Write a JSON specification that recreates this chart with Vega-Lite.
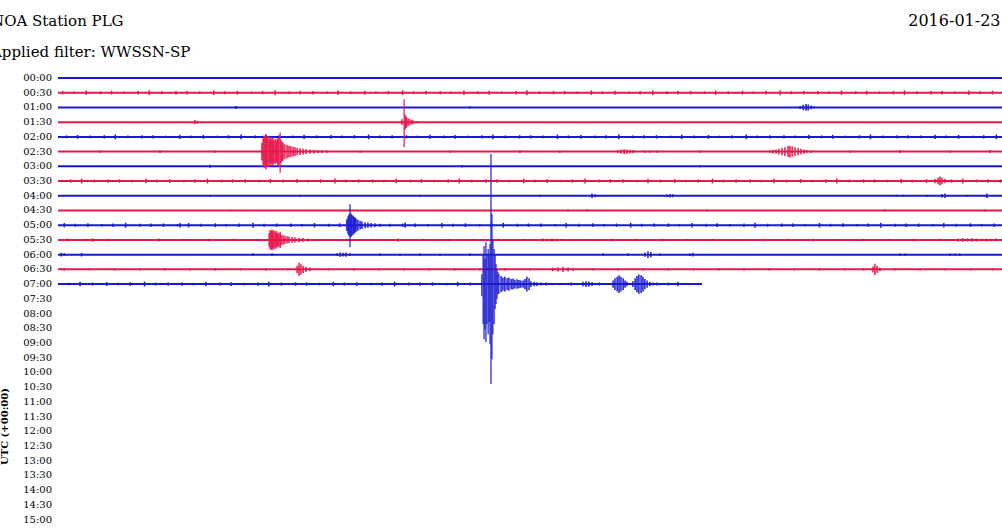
{
"$schema":"https://vega.github.io/schema/vega-lite/v6.json",
"autosize":"none",
"width":944,"height":458,
"padding":{"left":58,"top":70,"right":0,"bottom":0},
"background":"white",
"config":{"view":{"stroke":null}},
"title":{"text":"NOA Station PLG","subtitle":"Applied filter: WWSSN-SP","anchor":"start","frame":"group","dx":-67,"dy":52,"font":"DejaVu Serif","fontSize":15,"fontWeight":"normal","color":"black","subtitleFont":"DejaVu Serif","subtitleFontSize":15,"subtitleColor":"black","subtitlePadding":16,"offset":4},
"datasets":{
"labs":[{"r":0,"lab":"00:00"},{"r":1,"lab":"00:30"},{"r":2,"lab":"01:00"},{"r":3,"lab":"01:30"},{"r":4,"lab":"02:00"},{"r":5,"lab":"02:30"},{"r":6,"lab":"03:00"},{"r":7,"lab":"03:30"},{"r":8,"lab":"04:00"},{"r":9,"lab":"04:30"},{"r":10,"lab":"05:00"},{"r":11,"lab":"05:30"},{"r":12,"lab":"06:00"},{"r":13,"lab":"06:30"},{"r":14,"lab":"07:00"},{"r":15,"lab":"07:30"},{"r":16,"lab":"08:00"},{"r":17,"lab":"08:30"},{"r":18,"lab":"09:00"},{"r":19,"lab":"09:30"},{"r":20,"lab":"10:00"},{"r":21,"lab":"10:30"},{"r":22,"lab":"11:00"},{"r":23,"lab":"11:30"},{"r":24,"lab":"12:00"},{"r":25,"lab":"12:30"},{"r":26,"lab":"13:00"},{"r":27,"lab":"13:30"},{"r":28,"lab":"14:00"},{"r":29,"lab":"14:30"},{"r":30,"lab":"15:00"}],
"base":[{"r":0,"t0":0,"t1":30},{"r":1,"t0":0,"t1":30},{"r":2,"t0":0,"t1":30},{"r":3,"t0":0,"t1":30},{"r":4,"t0":0,"t1":30},{"r":5,"t0":0,"t1":30},{"r":6,"t0":0,"t1":30},{"r":7,"t0":0,"t1":30},{"r":8,"t0":0,"t1":30},{"r":9,"t0":0,"t1":30},{"r":10,"t0":0,"t1":30},{"r":11,"t0":0,"t1":30},{"r":12,"t0":0,"t1":30},{"r":13,"t0":0,"t1":30},{"r":14,"t0":0,"t1":20.47}],
"spk":[
{"r":0,"t":2.92,"a":0.15},{"r":0,"t":17.2,"a":0.15},
{"r":1,"t":0.15,"a":0.23},{"r":1,"t":0.5,"a":0.17},{"r":1,"t":0.9,"a":0.3},{"r":1,"t":1.35,"a":0.2},{"r":1,"t":1.7,"a":0.26},{"r":1,"t":2.1,"a":0.17},{"r":1,"t":2.55,"a":0.23},{"r":1,"t":2.9,"a":0.33},{"r":1,"t":3.3,"a":0.2},{"r":1,"t":3.75,"a":0.23},
{"r":1,"t":4.1,"a":0.23},{"r":1,"t":4.5,"a":0.17},{"r":1,"t":4.95,"a":0.3},{"r":1,"t":5.3,"a":0.2},{"r":1,"t":5.7,"a":0.26},{"r":1,"t":6.15,"a":0.17},{"r":1,"t":6.5,"a":0.23},{"r":1,"t":6.9,"a":0.33},{"r":1,"t":7.35,"a":0.2},{"r":1,"t":7.7,"a":0.23},
{"r":1,"t":8.1,"a":0.23},{"r":1,"t":8.55,"a":0.17},{"r":1,"t":8.9,"a":0.3},{"r":1,"t":9.3,"a":0.2},{"r":1,"t":9.75,"a":0.26},{"r":1,"t":10.1,"a":0.17},{"r":1,"t":10.5,"a":0.23},{"r":1,"t":10.95,"a":0.33},{"r":1,"t":11.3,"a":0.2},{"r":1,"t":11.7,"a":0.23},
{"r":1,"t":12.15,"a":0.23},{"r":1,"t":12.5,"a":0.17},{"r":1,"t":12.9,"a":0.3},{"r":1,"t":13.35,"a":0.2},{"r":1,"t":13.7,"a":0.26},{"r":1,"t":14.1,"a":0.17},{"r":1,"t":14.55,"a":0.23},{"r":1,"t":14.9,"a":0.33},{"r":1,"t":15.3,"a":0.2},{"r":1,"t":15.75,"a":0.23},
{"r":1,"t":16.1,"a":0.23},{"r":1,"t":16.5,"a":0.17},{"r":1,"t":16.95,"a":0.3},{"r":1,"t":17.3,"a":0.2},{"r":1,"t":17.7,"a":0.26},{"r":1,"t":18.15,"a":0.17},{"r":1,"t":18.5,"a":0.23},{"r":1,"t":18.9,"a":0.33},{"r":1,"t":19.35,"a":0.2},{"r":1,"t":19.7,"a":0.23},
{"r":1,"t":20.1,"a":0.23},{"r":1,"t":20.55,"a":0.17},{"r":1,"t":20.9,"a":0.3},{"r":1,"t":21.3,"a":0.2},{"r":1,"t":21.75,"a":0.26},{"r":1,"t":22.1,"a":0.17},{"r":1,"t":22.5,"a":0.23},{"r":1,"t":22.95,"a":0.33},{"r":1,"t":23.3,"a":0.2},{"r":1,"t":23.7,"a":0.23},
{"r":1,"t":24.15,"a":0.23},{"r":1,"t":24.5,"a":0.17},{"r":1,"t":24.9,"a":0.3},{"r":1,"t":25.35,"a":0.2},{"r":1,"t":25.7,"a":0.26},{"r":1,"t":26.1,"a":0.17},{"r":1,"t":26.55,"a":0.23},{"r":1,"t":26.9,"a":0.33},{"r":1,"t":27.3,"a":0.2},{"r":1,"t":27.75,"a":0.23},
{"r":1,"t":28.1,"a":0.23},{"r":1,"t":28.5,"a":0.17},{"r":1,"t":28.95,"a":0.3},{"r":1,"t":29.3,"a":0.2},{"r":1,"t":29.7,"a":0.26},
{"r":2,"t":5.66,"a":0.2},{"r":2,"t":13.09,"a":0.15},{"r":2,"t":23.58,"a":0.2},{"r":2,"t":23.68,"a":0.35},{"r":2,"t":23.77,"a":0.45},{"r":2,"t":23.84,"a":0.4},{"r":2,"t":23.93,"a":0.25},{"r":2,"t":24.02,"a":0.15},
{"r":3,"t":4.35,"a":0.3},{"r":3,"t":4.42,"a":0.2},{"r":3,"t":10.93,"a":0.4},{"r":3,"t":11.03,"a":1.0},{"r":3,"t":11.06,"a":0.8},{"r":3,"t":11.09,"a":0.6},{"r":3,"t":11.15,"a":0.5},{"r":3,"t":11.22,"a":0.35},{"r":3,"t":11.28,"a":0.25},{"r":3,"t":11.38,"a":0.15},
{"r":4,"t":0.27,"a":0.2},{"r":4,"t":0.62,"a":0.26},{"r":4,"t":1.02,"a":0.17},{"r":4,"t":1.47,"a":0.23},{"r":4,"t":1.82,"a":0.33},{"r":4,"t":2.22,"a":0.2},{"r":4,"t":2.67,"a":0.23},{"r":4,"t":3.02,"a":0.23},{"r":4,"t":3.42,"a":0.17},{"r":4,"t":3.87,"a":0.3},
{"r":4,"t":4.22,"a":0.2},{"r":4,"t":4.62,"a":0.26},{"r":4,"t":5.07,"a":0.17},{"r":4,"t":5.42,"a":0.23},{"r":4,"t":5.82,"a":0.33},{"r":4,"t":6.27,"a":0.2},{"r":4,"t":6.62,"a":0.23},{"r":4,"t":7.02,"a":0.23},{"r":4,"t":7.47,"a":0.17},{"r":4,"t":7.82,"a":0.3},
{"r":4,"t":8.22,"a":0.2},{"r":4,"t":8.67,"a":0.26},{"r":4,"t":9.02,"a":0.17},{"r":4,"t":9.42,"a":0.23},{"r":4,"t":9.87,"a":0.33},{"r":4,"t":10.22,"a":0.2},{"r":4,"t":10.62,"a":0.23},{"r":4,"t":11.07,"a":0.23},{"r":4,"t":11.42,"a":0.17},{"r":4,"t":11.82,"a":0.3},
{"r":4,"t":12.27,"a":0.2},{"r":4,"t":12.62,"a":0.26},{"r":4,"t":13.02,"a":0.17},{"r":4,"t":13.47,"a":0.23},{"r":4,"t":13.82,"a":0.33},{"r":4,"t":14.22,"a":0.2},{"r":4,"t":14.67,"a":0.23},{"r":4,"t":15.02,"a":0.23},{"r":4,"t":15.42,"a":0.17},{"r":4,"t":15.87,"a":0.3},
{"r":4,"t":16.22,"a":0.2},{"r":4,"t":16.62,"a":0.26},{"r":4,"t":17.07,"a":0.17},{"r":4,"t":17.42,"a":0.23},{"r":4,"t":17.82,"a":0.33},{"r":4,"t":18.27,"a":0.2},{"r":4,"t":18.62,"a":0.23},{"r":4,"t":19.02,"a":0.23},{"r":4,"t":19.47,"a":0.17},{"r":4,"t":19.82,"a":0.3},
{"r":4,"t":20.22,"a":0.2},{"r":4,"t":20.67,"a":0.26},{"r":4,"t":21.02,"a":0.17},{"r":4,"t":21.42,"a":0.23},{"r":4,"t":21.87,"a":0.33},{"r":4,"t":22.22,"a":0.2},{"r":4,"t":22.62,"a":0.23},{"r":4,"t":23.07,"a":0.23},{"r":4,"t":23.42,"a":0.17},{"r":4,"t":23.87,"a":0.3},
{"r":4,"t":24.27,"a":0.2},{"r":4,"t":24.62,"a":0.26},{"r":4,"t":25.02,"a":0.17},{"r":4,"t":25.47,"a":0.23},{"r":4,"t":25.82,"a":0.33},{"r":4,"t":26.22,"a":0.2},{"r":4,"t":26.67,"a":0.23},{"r":4,"t":27.02,"a":0.23},{"r":4,"t":27.42,"a":0.17},{"r":4,"t":27.87,"a":0.3},
{"r":4,"t":28.22,"a":0.2},{"r":4,"t":28.62,"a":0.26},{"r":4,"t":29.07,"a":0.17},{"r":4,"t":29.42,"a":0.23},{"r":4,"t":29.82,"a":0.33},
{"r":5,"t":1.33,"a":0.15},{"r":5,"t":3.24,"a":0.2},{"r":5,"t":4.99,"a":0.15},
{"r":5,"t":6.48,"a":1.2},{"r":5,"t":6.52,"a":1.8},{"r":5,"t":6.55,"a":2.2},{"r":5,"t":6.58,"a":2.0},{"r":5,"t":6.61,"a":2.4},{"r":5,"t":6.64,"a":1.9},{"r":5,"t":6.67,"a":2.1},{"r":5,"t":6.71,"a":1.7},{"r":5,"t":6.74,"a":2.0},{"r":5,"t":6.77,"a":1.8},{"r":5,"t":6.8,"a":1.6},{"r":5,"t":6.83,"a":1.9},{"r":5,"t":6.86,"a":1.5},{"r":5,"t":6.9,"a":1.7},{"r":5,"t":6.93,"a":1.4},{"r":5,"t":6.96,"a":1.6},{"r":5,"t":6.99,"a":1.8},{"r":5,"t":7.02,"a":2.0},{"r":5,"t":7.09,"a":1.5},{"r":5,"t":7.12,"a":1.3},{"r":5,"t":7.15,"a":1.2},{"r":5,"t":7.21,"a":1.0},{"r":5,"t":7.28,"a":0.9},{"r":5,"t":7.34,"a":0.8},{"r":5,"t":7.4,"a":0.75},{"r":5,"t":7.47,"a":0.65},{"r":5,"t":7.53,"a":0.6},{"r":5,"t":7.6,"a":0.5},{"r":5,"t":7.69,"a":0.45},{"r":5,"t":7.79,"a":0.4},{"r":5,"t":7.88,"a":0.35},{"r":5,"t":8.01,"a":0.3},{"r":5,"t":8.14,"a":0.25},{"r":5,"t":8.26,"a":0.2},{"r":5,"t":8.39,"a":0.2},{"r":5,"t":8.55,"a":0.15},
{"r":5,"t":9.6,"a":0.15},{"r":5,"t":12.46,"a":0.15},{"r":5,"t":14.68,"a":0.2},{"r":5,"t":15.95,"a":0.15},
{"r":5,"t":17.8,"a":0.2},{"r":5,"t":17.89,"a":0.3},{"r":5,"t":17.99,"a":0.35},{"r":5,"t":18.08,"a":0.3},{"r":5,"t":18.18,"a":0.25},{"r":5,"t":18.27,"a":0.2},{"r":5,"t":18.65,"a":0.15},{"r":5,"t":18.81,"a":0.15},{"r":5,"t":19.03,"a":0.15},{"r":5,"t":20.4,"a":0.15},
{"r":5,"t":22.63,"a":0.15},{"r":5,"t":22.72,"a":0.25},{"r":5,"t":22.82,"a":0.3},{"r":5,"t":22.91,"a":0.4},{"r":5,"t":23.01,"a":0.5},{"r":5,"t":23.1,"a":0.6},{"r":5,"t":23.2,"a":0.75},{"r":5,"t":23.26,"a":0.8},{"r":5,"t":23.33,"a":0.7},{"r":5,"t":23.42,"a":0.6},{"r":5,"t":23.52,"a":0.5},{"r":5,"t":23.61,"a":0.4},{"r":5,"t":23.71,"a":0.3},{"r":5,"t":23.8,"a":0.2},{"r":5,"t":23.93,"a":0.15},
{"r":5,"t":25.17,"a":0.15},{"r":5,"t":26.76,"a":0.2},{"r":5,"t":28.35,"a":0.15},{"r":5,"t":29.62,"a":0.2},
{"r":6,"t":4.83,"a":0.2},{"r":6,"t":12.84,"a":0.15},{"r":6,"t":20.4,"a":0.12},
{"r":7,"t":0.4,"a":0.23},{"r":7,"t":0.75,"a":0.33},{"r":7,"t":1.15,"a":0.2},{"r":7,"t":1.6,"a":0.23},{"r":7,"t":1.95,"a":0.23},{"r":7,"t":2.35,"a":0.17},{"r":7,"t":2.8,"a":0.3},{"r":7,"t":3.15,"a":0.2},{"r":7,"t":3.55,"a":0.26},{"r":7,"t":4.0,"a":0.17},
{"r":7,"t":4.35,"a":0.23},{"r":7,"t":4.75,"a":0.33},{"r":7,"t":5.2,"a":0.2},{"r":7,"t":5.55,"a":0.23},{"r":7,"t":5.95,"a":0.23},{"r":7,"t":6.4,"a":0.17},{"r":7,"t":6.75,"a":0.3},{"r":7,"t":7.15,"a":0.2},{"r":7,"t":7.6,"a":0.26},{"r":7,"t":7.95,"a":0.17},
{"r":7,"t":8.35,"a":0.23},{"r":7,"t":8.8,"a":0.33},{"r":7,"t":9.15,"a":0.2},{"r":7,"t":9.55,"a":0.23},{"r":7,"t":10.0,"a":0.23},{"r":7,"t":10.35,"a":0.17},{"r":7,"t":10.75,"a":0.3},{"r":7,"t":11.2,"a":0.2},{"r":7,"t":11.55,"a":0.26},{"r":7,"t":11.95,"a":0.17},
{"r":7,"t":12.4,"a":0.23},{"r":7,"t":12.75,"a":0.33},{"r":7,"t":13.15,"a":0.2},{"r":7,"t":13.6,"a":0.23},{"r":7,"t":13.95,"a":0.23},{"r":7,"t":14.35,"a":0.17},{"r":7,"t":14.8,"a":0.3},{"r":7,"t":15.15,"a":0.2},{"r":7,"t":15.55,"a":0.26},{"r":7,"t":16.0,"a":0.17},
{"r":7,"t":16.35,"a":0.23},{"r":7,"t":16.75,"a":0.33},{"r":7,"t":17.2,"a":0.2},{"r":7,"t":17.55,"a":0.23},{"r":7,"t":17.95,"a":0.23},{"r":7,"t":18.4,"a":0.17},{"r":7,"t":18.75,"a":0.3},{"r":7,"t":19.15,"a":0.2},{"r":7,"t":19.6,"a":0.26},{"r":7,"t":19.95,"a":0.17},
{"r":7,"t":20.35,"a":0.23},{"r":7,"t":20.8,"a":0.33},{"r":7,"t":21.15,"a":0.2},{"r":7,"t":21.55,"a":0.23},{"r":7,"t":22.0,"a":0.23},{"r":7,"t":22.35,"a":0.17},{"r":7,"t":22.75,"a":0.3},{"r":7,"t":23.15,"a":0.2},{"r":7,"t":23.6,"a":0.26},{"r":7,"t":23.95,"a":0.17},
{"r":7,"t":24.4,"a":0.23},{"r":7,"t":24.75,"a":0.33},{"r":7,"t":25.15,"a":0.2},{"r":7,"t":25.6,"a":0.23},{"r":7,"t":25.95,"a":0.23},{"r":7,"t":26.35,"a":0.17},{"r":7,"t":26.8,"a":0.3},{"r":7,"t":27.15,"a":0.2},{"r":7,"t":27.6,"a":0.26},
{"r":7,"t":27.87,"a":0.3},{"r":7,"t":27.97,"a":0.45},{"r":7,"t":28.03,"a":0.6},{"r":7,"t":28.09,"a":0.45},{"r":7,"t":28.19,"a":0.3},
{"r":7,"t":28.4,"a":0.23},{"r":7,"t":28.75,"a":0.33},{"r":7,"t":29.2,"a":0.2},{"r":7,"t":29.55,"a":0.23},{"r":7,"t":29.95,"a":0.23},
{"r":8,"t":4.83,"a":0.15},{"r":8,"t":7.69,"a":0.12},{"r":8,"t":11.5,"a":0.12},{"r":8,"t":15.32,"a":0.12},{"r":8,"t":16.97,"a":0.3},{"r":8,"t":17.07,"a":0.2},{"r":8,"t":19.35,"a":0.2},{"r":8,"t":19.45,"a":0.25},{"r":8,"t":19.54,"a":0.2},{"r":8,"t":26.66,"a":0.15},{"r":8,"t":26.85,"a":0.15},{"r":8,"t":27.62,"a":0.15},{"r":8,"t":28.09,"a":0.25},{"r":8,"t":28.19,"a":0.3},{"r":8,"t":28.89,"a":0.15},{"r":8,"t":29.52,"a":0.3},
{"r":9,"t":5.47,"a":0.12},{"r":9,"t":16.21,"a":0.15},{"r":9,"t":16.81,"a":0.15},{"r":9,"t":20.62,"a":0.12},{"r":9,"t":26.28,"a":0.15},{"r":9,"t":29.46,"a":0.15},
{"r":10,"t":0.2,"a":0.3},{"r":10,"t":0.55,"a":0.2},{"r":10,"t":0.95,"a":0.26},{"r":10,"t":1.4,"a":0.17},{"r":10,"t":1.75,"a":0.23},{"r":10,"t":2.15,"a":0.33},{"r":10,"t":2.6,"a":0.2},{"r":10,"t":2.95,"a":0.23},{"r":10,"t":3.35,"a":0.23},{"r":10,"t":3.8,"a":0.17},{"r":10,"t":3.88,"a":0.3},
{"r":10,"t":4.15,"a":0.3},{"r":10,"t":4.55,"a":0.2},{"r":10,"t":5.0,"a":0.26},{"r":10,"t":5.35,"a":0.17},{"r":10,"t":5.75,"a":0.23},{"r":10,"t":6.2,"a":0.33},{"r":10,"t":6.55,"a":0.2},{"r":10,"t":6.95,"a":0.23},{"r":10,"t":7.4,"a":0.23},{"r":10,"t":7.75,"a":0.17},
{"r":10,"t":8.15,"a":0.3},{"r":10,"t":8.6,"a":0.2},{"r":10,"t":8.95,"a":0.26},
{"r":10,"t":9.18,"a":0.8},{"r":10,"t":9.22,"a":1.2},{"r":10,"t":9.25,"a":1.5},{"r":10,"t":9.31,"a":1.6},{"r":10,"t":9.34,"a":1.4},{"r":10,"t":9.38,"a":1.3},{"r":10,"t":9.41,"a":1.1},{"r":10,"t":9.44,"a":1.0},{"r":10,"t":9.47,"a":0.9},{"r":10,"t":9.53,"a":0.75},{"r":10,"t":9.6,"a":0.6},{"r":10,"t":9.66,"a":0.5},{"r":10,"t":9.76,"a":0.4},{"r":10,"t":9.85,"a":0.35},{"r":10,"t":9.95,"a":0.3},{"r":10,"t":10.07,"a":0.25},{"r":10,"t":10.23,"a":0.2},
{"r":10,"t":10.55,"a":0.2},{"r":10,"t":10.95,"a":0.23},{"r":10,"t":11.03,"a":0.35},{"r":10,"t":11.35,"a":0.23},{"r":10,"t":11.75,"a":0.17},
{"r":10,"t":12.2,"a":0.3},{"r":10,"t":12.55,"a":0.2},{"r":10,"t":12.95,"a":0.26},{"r":10,"t":13.4,"a":0.17},{"r":10,"t":13.75,"a":0.23},{"r":10,"t":14.15,"a":0.33},{"r":10,"t":14.6,"a":0.2},{"r":10,"t":14.95,"a":0.23},{"r":10,"t":15.35,"a":0.23},{"r":10,"t":15.8,"a":0.17},
{"r":10,"t":16.15,"a":0.3},{"r":10,"t":16.55,"a":0.2},{"r":10,"t":17.0,"a":0.26},{"r":10,"t":17.35,"a":0.17},{"r":10,"t":17.75,"a":0.23},{"r":10,"t":18.2,"a":0.33},{"r":10,"t":18.55,"a":0.2},{"r":10,"t":18.95,"a":0.23},{"r":10,"t":19.4,"a":0.23},{"r":10,"t":19.75,"a":0.17},
{"r":10,"t":20.15,"a":0.3},{"r":10,"t":20.6,"a":0.2},{"r":10,"t":20.95,"a":0.26},{"r":10,"t":21.35,"a":0.17},{"r":10,"t":21.8,"a":0.23},{"r":10,"t":22.15,"a":0.33},{"r":10,"t":22.55,"a":0.2},{"r":10,"t":23.0,"a":0.23},{"r":10,"t":23.35,"a":0.23},{"r":10,"t":23.75,"a":0.17},
{"r":10,"t":24.2,"a":0.3},{"r":10,"t":24.55,"a":0.2},{"r":10,"t":24.95,"a":0.26},{"r":10,"t":25.4,"a":0.17},{"r":10,"t":25.75,"a":0.23},{"r":10,"t":26.15,"a":0.33},{"r":10,"t":26.6,"a":0.2},{"r":10,"t":26.95,"a":0.23},{"r":10,"t":27.35,"a":0.23},{"r":10,"t":27.8,"a":0.17},
{"r":10,"t":28.15,"a":0.3},{"r":10,"t":28.55,"a":0.2},{"r":10,"t":29.0,"a":0.26},{"r":10,"t":29.35,"a":0.17},{"r":10,"t":29.75,"a":0.23},
{"r":11,"t":0.3,"a":0.2},{"r":11,"t":0.9,"a":0.17},{"r":11,"t":1.1,"a":0.23},{"r":11,"t":1.6,"a":0.17},{"r":11,"t":2.4,"a":0.15},{"r":11,"t":3.2,"a":0.2},{"r":11,"t":4.0,"a":0.15},{"r":11,"t":4.8,"a":0.17},{"r":11,"t":5.6,"a":0.15},{"r":11,"t":6.3,"a":0.17},
{"r":11,"t":6.71,"a":0.9},{"r":11,"t":6.74,"a":1.3},{"r":11,"t":6.77,"a":1.2},{"r":11,"t":6.8,"a":1.4},{"r":11,"t":6.83,"a":1.1},{"r":11,"t":6.86,"a":1.3},{"r":11,"t":6.9,"a":1.0},{"r":11,"t":6.93,"a":1.2},{"r":11,"t":6.96,"a":0.9},{"r":11,"t":6.99,"a":1.0},{"r":11,"t":7.02,"a":0.8},{"r":11,"t":7.06,"a":1.1},{"r":11,"t":7.09,"a":0.7},{"r":11,"t":7.15,"a":0.65},{"r":11,"t":7.21,"a":0.55},{"r":11,"t":7.28,"a":0.5},{"r":11,"t":7.34,"a":0.45},{"r":11,"t":7.44,"a":0.4},{"r":11,"t":7.53,"a":0.35},{"r":11,"t":7.66,"a":0.3},{"r":11,"t":7.79,"a":0.25},{"r":11,"t":7.94,"a":0.2},
{"r":11,"t":8.4,"a":0.15},{"r":11,"t":9.2,"a":0.17},{"r":11,"t":10.0,"a":0.15},{"r":11,"t":10.8,"a":0.2},{"r":11,"t":11.6,"a":0.15},{"r":11,"t":12.4,"a":0.17},{"r":11,"t":13.2,"a":0.15},{"r":11,"t":14.0,"a":0.17},{"r":11,"t":14.8,"a":0.15},{"r":11,"t":15.4,"a":0.2},{"r":11,"t":15.55,"a":0.17},{"r":11,"t":15.7,"a":0.2},{"r":11,"t":15.85,"a":0.17},{"r":11,"t":16.0,"a":0.15},{"r":11,"t":16.8,"a":0.15},{"r":11,"t":17.6,"a":0.17},{"r":11,"t":18.4,"a":0.15},{"r":11,"t":19.2,"a":0.17},{"r":11,"t":20.0,"a":0.15},{"r":11,"t":20.8,"a":0.17},{"r":11,"t":21.6,"a":0.15},{"r":11,"t":22.4,"a":0.17},{"r":11,"t":23.2,"a":0.15},{"r":11,"t":24.0,"a":0.17},{"r":11,"t":24.8,"a":0.15},{"r":11,"t":25.6,"a":0.17},{"r":11,"t":26.4,"a":0.15},{"r":11,"t":27.2,"a":0.17},{"r":11,"t":28.0,"a":0.15},
{"r":11,"t":28.6,"a":0.2},{"r":11,"t":28.75,"a":0.26},{"r":11,"t":28.9,"a":0.2},{"r":11,"t":29.05,"a":0.26},{"r":11,"t":29.2,"a":0.2},{"r":11,"t":29.35,"a":0.17},{"r":11,"t":29.5,"a":0.2},{"r":11,"t":29.65,"a":0.17},{"r":11,"t":29.8,"a":0.2},
{"r":12,"t":0.1,"a":0.25},{"r":12,"t":0.2,"a":0.2},{"r":12,"t":0.75,"a":0.25},{"r":12,"t":6.2,"a":0.2},{"r":12,"t":6.8,"a":0.2},{"r":12,"t":8.87,"a":0.2},{"r":12,"t":8.97,"a":0.3},{"r":12,"t":9.06,"a":0.25},{"r":12,"t":9.15,"a":0.3},{"r":12,"t":9.28,"a":0.2},{"r":12,"t":10.23,"a":0.15},{"r":12,"t":10.87,"a":0.15},{"r":12,"t":11.5,"a":0.15},{"r":12,"t":12.14,"a":0.15},{"r":12,"t":13.09,"a":0.15},{"r":12,"t":17.32,"a":0.2},{"r":12,"t":18.11,"a":0.2},{"r":12,"t":18.65,"a":0.3},{"r":12,"t":18.75,"a":0.45},{"r":12,"t":18.84,"a":0.35},{"r":12,"t":19.13,"a":0.15},{"r":12,"t":20.08,"a":0.2},{"r":12,"t":20.18,"a":0.25},{"r":12,"t":26.76,"a":0.15},{"r":12,"t":26.92,"a":0.15},{"r":12,"t":28.35,"a":0.15},{"r":12,"t":28.51,"a":0.15},{"r":12,"t":28.66,"a":0.15},
{"r":13,"t":0.2,"a":0.17},{"r":13,"t":1.0,"a":0.15},{"r":13,"t":1.8,"a":0.17},{"r":13,"t":2.6,"a":0.15},{"r":13,"t":3.4,"a":0.17},{"r":13,"t":4.2,"a":0.15},{"r":13,"t":5.0,"a":0.17},{"r":13,"t":5.8,"a":0.15},{"r":13,"t":6.6,"a":0.17},{"r":13,"t":7.3,"a":0.15},
{"r":13,"t":7.6,"a":0.5},{"r":13,"t":7.66,"a":0.9},{"r":13,"t":7.72,"a":0.7},{"r":13,"t":7.79,"a":0.5},{"r":13,"t":7.88,"a":0.35},{"r":13,"t":8.0,"a":0.25},
{"r":13,"t":8.6,"a":0.15},{"r":13,"t":9.4,"a":0.17},{"r":13,"t":10.2,"a":0.15},{"r":13,"t":11.0,"a":0.17},{"r":13,"t":11.8,"a":0.15},{"r":13,"t":12.6,"a":0.17},{"r":13,"t":13.4,"a":0.15},{"r":13,"t":14.2,"a":0.17},{"r":13,"t":15.0,"a":0.15},
{"r":13,"t":15.73,"a":0.25},{"r":13,"t":15.89,"a":0.3},{"r":13,"t":16.05,"a":0.35},{"r":13,"t":16.21,"a":0.3},{"r":13,"t":16.37,"a":0.2},
{"r":13,"t":17.0,"a":0.15},{"r":13,"t":17.8,"a":0.17},{"r":13,"t":18.6,"a":0.15},{"r":13,"t":19.4,"a":0.17},{"r":13,"t":20.2,"a":0.15},{"r":13,"t":21.0,"a":0.17},{"r":13,"t":21.8,"a":0.15},{"r":13,"t":22.6,"a":0.17},{"r":13,"t":23.4,"a":0.15},{"r":13,"t":24.2,"a":0.17},{"r":13,"t":25.0,"a":0.15},{"r":13,"t":25.6,"a":0.17},
{"r":13,"t":25.9,"a":0.4},{"r":13,"t":25.96,"a":0.75},{"r":13,"t":26.03,"a":0.5},{"r":13,"t":26.12,"a":0.25},
{"r":13,"t":26.6,"a":0.15},{"r":13,"t":27.4,"a":0.17},{"r":13,"t":28.2,"a":0.15},{"r":13,"t":29.0,"a":0.17},{"r":13,"t":29.7,"a":0.15},
{"r":14,"t":0.35,"a":0.17},{"r":14,"t":0.7,"a":0.3},{"r":14,"t":1.1,"a":0.2},{"r":14,"t":1.55,"a":0.26},{"r":14,"t":1.9,"a":0.17},{"r":14,"t":2.3,"a":0.23},{"r":14,"t":2.75,"a":0.33},{"r":14,"t":3.1,"a":0.2},{"r":14,"t":3.5,"a":0.23},{"r":14,"t":3.95,"a":0.23},
{"r":14,"t":4.3,"a":0.17},{"r":14,"t":4.7,"a":0.3},{"r":14,"t":5.15,"a":0.2},{"r":14,"t":5.5,"a":0.26},{"r":14,"t":5.9,"a":0.17},{"r":14,"t":6.35,"a":0.23},{"r":14,"t":6.7,"a":0.33},{"r":14,"t":7.1,"a":0.2},{"r":14,"t":7.55,"a":0.23},{"r":14,"t":7.9,"a":0.23},
{"r":14,"t":8.3,"a":0.17},{"r":14,"t":8.75,"a":0.3},{"r":14,"t":9.1,"a":0.2},{"r":14,"t":9.5,"a":0.26},{"r":14,"t":9.95,"a":0.17},{"r":14,"t":10.3,"a":0.23},{"r":14,"t":10.7,"a":0.33},{"r":14,"t":11.15,"a":0.2},{"r":14,"t":11.5,"a":0.23},{"r":14,"t":11.9,"a":0.23},
{"r":14,"t":12.35,"a":0.17},{"r":14,"t":12.7,"a":0.3},{"r":14,"t":13.1,"a":0.2},
{"r":14,"t":14.08,"a":1.1},{"r":14,"t":14.14,"a":0.9},{"r":14,"t":14.2,"a":1.0},{"r":14,"t":14.27,"a":0.8},{"r":14,"t":14.33,"a":0.9},{"r":14,"t":14.4,"a":0.7},{"r":14,"t":14.46,"a":0.75},{"r":14,"t":14.52,"a":0.6},{"r":14,"t":14.59,"a":0.65},{"r":14,"t":14.65,"a":0.55},{"r":14,"t":14.71,"a":0.5},{"r":14,"t":14.78,"a":0.5},{"r":14,"t":14.84,"a":0.7},{"r":14,"t":14.9,"a":1.0},{"r":14,"t":14.97,"a":0.8},{"r":14,"t":15.03,"a":0.4},{"r":14,"t":15.13,"a":0.3},{"r":14,"t":15.22,"a":0.25},{"r":14,"t":15.35,"a":0.2},{"r":14,"t":15.51,"a":0.2},{"r":14,"t":15.7,"a":0.15},{"r":14,"t":15.95,"a":0.15},{"r":14,"t":16.3,"a":0.2},
{"r":14,"t":16.68,"a":0.3},{"r":14,"t":16.78,"a":0.4},{"r":14,"t":16.87,"a":0.35},{"r":14,"t":16.97,"a":0.25},{"r":14,"t":17.2,"a":0.2},
{"r":14,"t":17.64,"a":0.5},{"r":14,"t":17.7,"a":0.8},{"r":14,"t":17.77,"a":1.0},{"r":14,"t":17.83,"a":1.2},{"r":14,"t":17.89,"a":1.0},{"r":14,"t":17.96,"a":0.8},{"r":14,"t":18.02,"a":0.5},{"r":14,"t":18.08,"a":0.3},
{"r":14,"t":18.27,"a":0.4},{"r":14,"t":18.34,"a":0.8},{"r":14,"t":18.4,"a":1.1},{"r":14,"t":18.46,"a":1.3},{"r":14,"t":18.53,"a":1.2},{"r":14,"t":18.59,"a":1.0},{"r":14,"t":18.65,"a":0.7},{"r":14,"t":18.72,"a":0.5},{"r":14,"t":18.81,"a":0.3},{"r":14,"t":18.91,"a":0.2},{"r":14,"t":19.04,"a":0.2},{"r":14,"t":19.13,"a":0.15},
{"r":14,"t":19.4,"a":0.2},{"r":14,"t":19.7,"a":0.3},{"r":14,"t":20.08,"a":0.15},{"r":14,"t":20.34,"a":0.15}
],
"pk":[
{"r":3,"t":11.0,"lo":1.44,"hi":4.7},
{"r":5,"t":7.06,"lo":3.71,"hi":6.43},
{"r":10,"t":9.28,"lo":8.57,"hi":11.49},
{"r":14,"t":13.47,"lo":13.32,"hi":14.82},
{"r":14,"t":13.51,"lo":11.96,"hi":16.72},
{"r":14,"t":13.54,"lo":11.42,"hi":17.74},
{"r":14,"t":13.57,"lo":12.3,"hi":17.06},
{"r":14,"t":13.6,"lo":11.15,"hi":17.94},
{"r":14,"t":13.63,"lo":11.96,"hi":16.72},
{"r":14,"t":13.67,"lo":11.62,"hi":17.4},
{"r":14,"t":13.7,"lo":12.1,"hi":16.58},
{"r":14,"t":13.73,"lo":11.28,"hi":18.08},
{"r":14,"t":13.76,"lo":5.17,"hi":20.79},
{"r":14,"t":13.79,"lo":9.24,"hi":19.1},
{"r":14,"t":13.82,"lo":10.94,"hi":17.4},
{"r":14,"t":13.86,"lo":11.62,"hi":16.72},
{"r":14,"t":13.89,"lo":11.96,"hi":15.7},
{"r":14,"t":13.92,"lo":12.64,"hi":15.36},
{"r":14,"t":13.95,"lo":12.98,"hi":15.02},
{"r":14,"t":13.98,"lo":13.18,"hi":14.68},
{"r":14,"t":14.01,"lo":13.32,"hi":14.68}
]
},
"layer":[
{"data":{"name":"base"},"mark":{"type":"rule","strokeWidth":2},
"encoding":{
"x":{"field":"t0","type":"quantitative","scale":{"domain":[0,30],"nice":false,"zero":false},
"axis":{"orient":"top","labels":false,"ticks":false,"domain":false,"grid":false,"title":"2016-01-23","titleX":942,"titleY":-45,"titleAlign":"right","titleBaseline":"alphabetic","titleFont":"DejaVu Serif","titleFontSize":16,"titleFontWeight":"normal","titleColor":"black"}},
"x2":{"field":"t1"},
"y":{"field":"r","type":"quantitative","scale":{"domain":[-0.543,30.57],"nice":false,"zero":false,"reverse":true},
"axis":{"labels":false,"domain":false,"ticks":false,"grid":false,
"title":"UTC (+00:00)","titleX":-54,"titleY":356,"titleAngle":270,"titleAlign":"center","titleBaseline":"middle","titleFont":"DejaVu Serif","titleFontSize":10,"titleFontWeight":"bold","titleColor":"black"}},
"color":{"field":"r","type":"ordinal","scale":{"domain":[0,1,2,3,4,5,6,7,8,9,10,11,12,13,14],"range":["#1a1ad0","#e8174b","#1a1ad0","#e8174b","#1a1ad0","#e8174b","#1a1ad0","#e8174b","#1a1ad0","#e8174b","#1a1ad0","#e8174b","#1a1ad0","#e8174b","#1a1ad0"]},"legend":null}
}},
{"data":{"name":"labs"},"mark":{"type":"text","align":"right","baseline":"middle","font":"DejaVu Serif","fontSize":10,"color":"black","dx":-6},
"encoding":{
"x":{"datum":0,"type":"quantitative"},
"y":{"field":"r","type":"quantitative"},
"text":{"field":"lab"}
}},
{"data":{"name":"spk"},"mark":{"type":"tick","orient":"vertical","thickness":1.5,"opacity":1},
"encoding":{
"x":{"field":"t","type":"quantitative"},
"y":{"field":"r","type":"quantitative"},
"size":{"field":"a","type":"quantitative","scale":{"type":"linear","domain":[0,1],"range":[0,14.72],"zero":true},"legend":null},
"color":{"field":"r","type":"ordinal","legend":null}
}},
{"data":{"name":"pk"},"mark":{"type":"rule","strokeWidth":1.2,"opacity":1},
"encoding":{
"x":{"field":"t","type":"quantitative"},
"y":{"field":"lo","type":"quantitative"},
"y2":{"field":"hi"},
"color":{"field":"r","type":"ordinal","legend":null}
}}
]
}
